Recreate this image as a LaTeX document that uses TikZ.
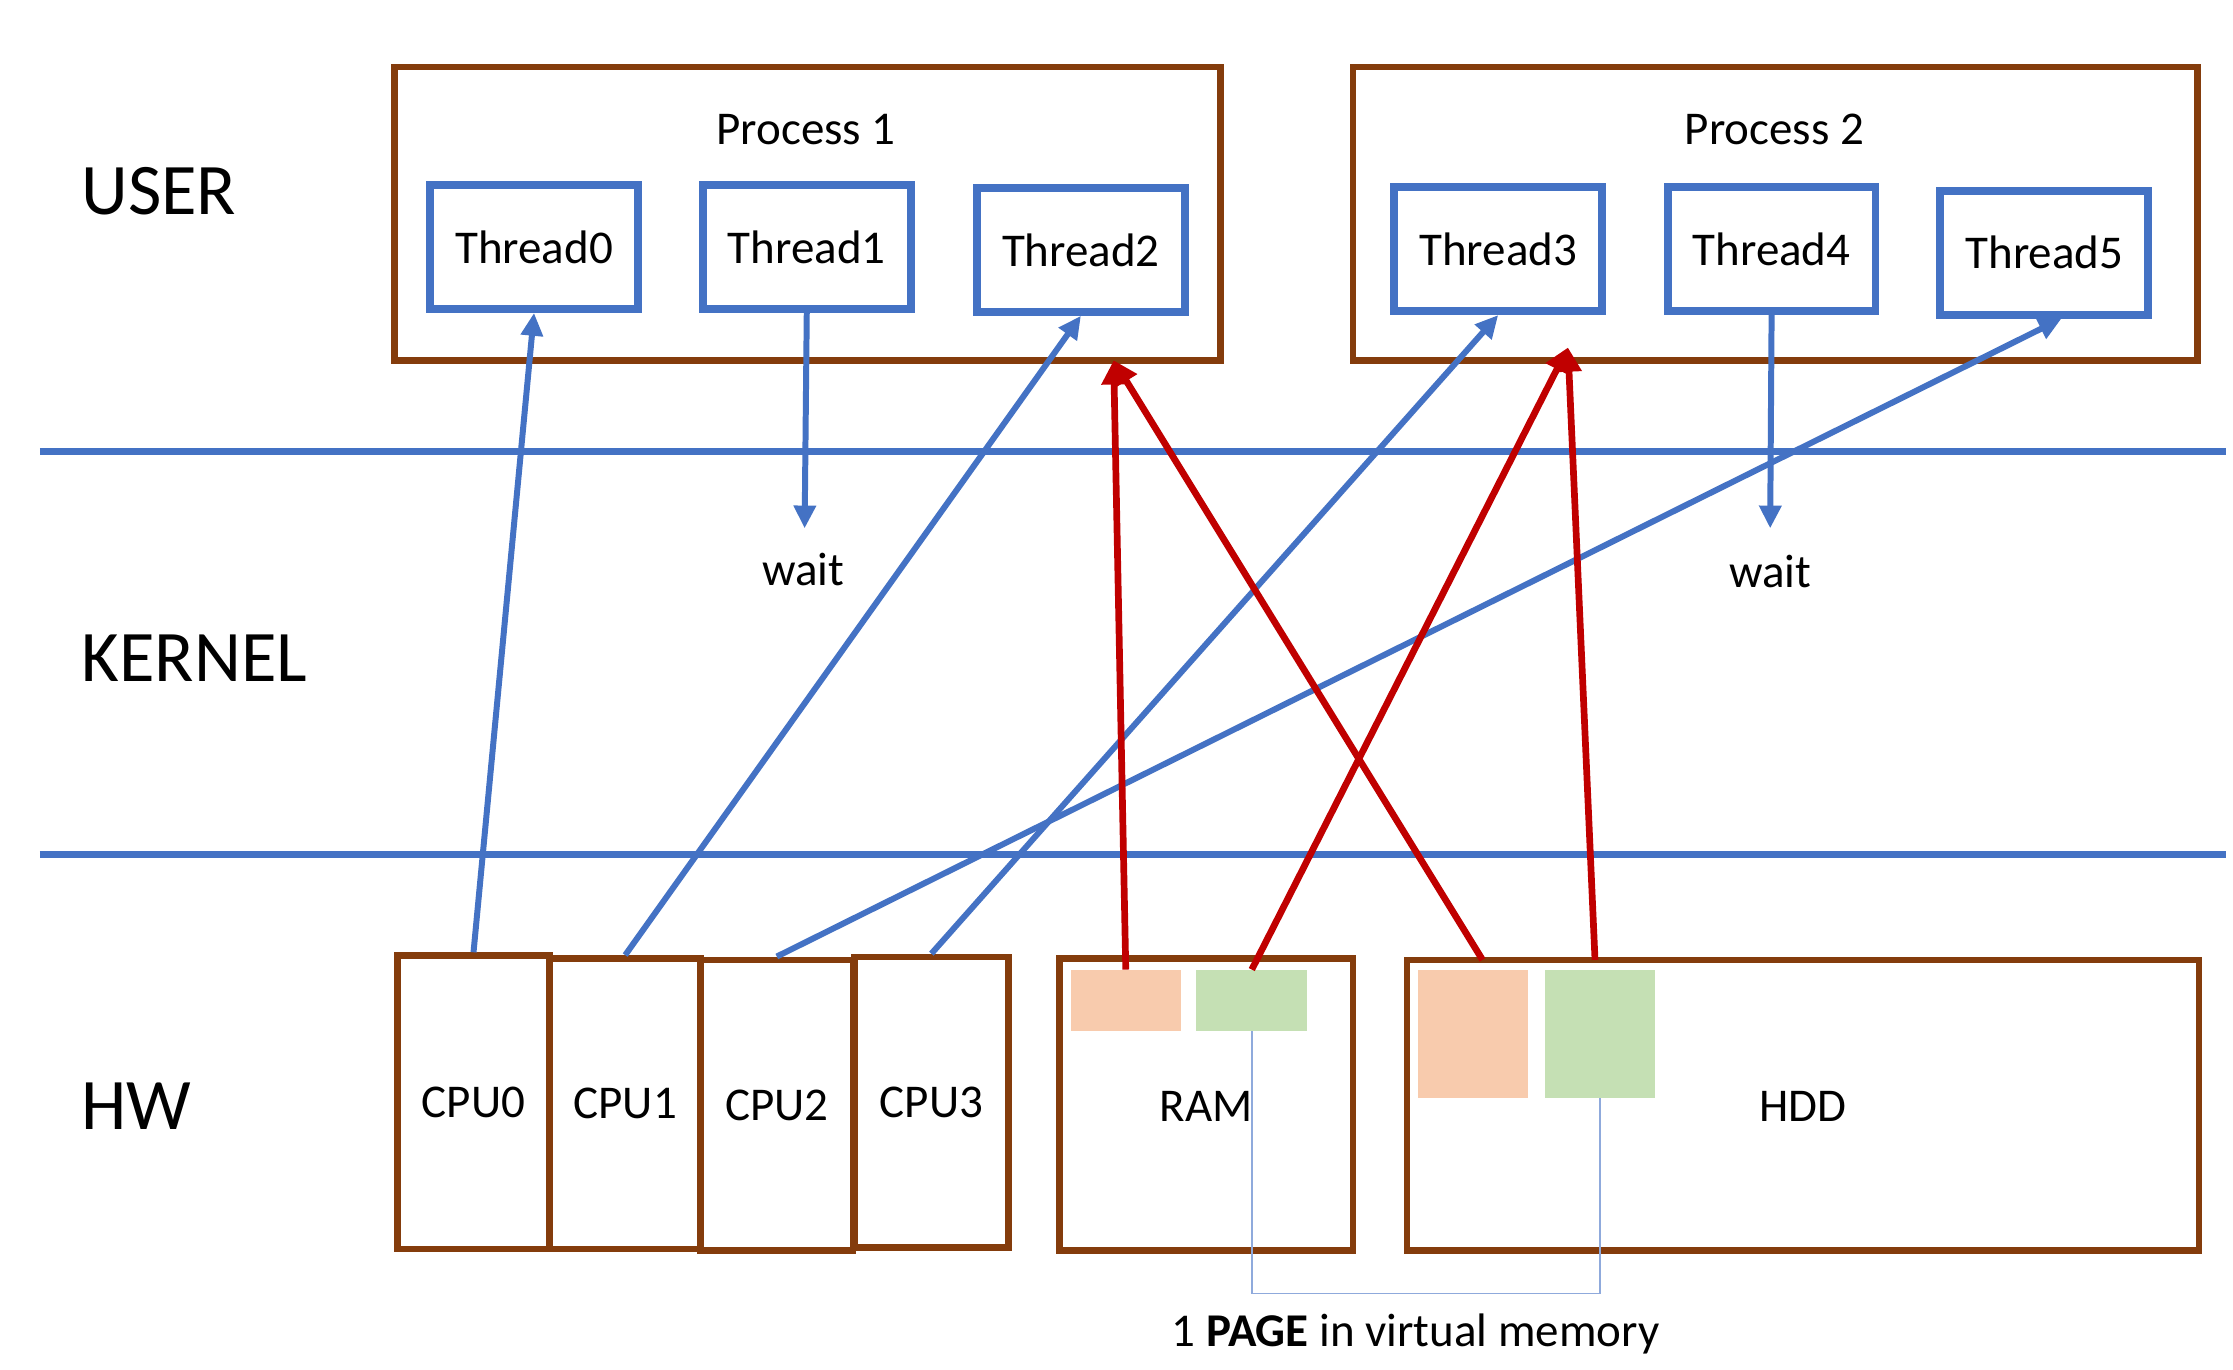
\documentclass[tikz,border=0pt]{standalone}
\usepackage{fontspec}
\setmainfont{Carlito}
\usetikzlibrary{arrows.meta,calc}
\definecolor{brownb}{RGB}{132,60,12}
\definecolor{blueb}{RGB}{68,114,196}
\definecolor{redb}{RGB}{192,0,0}
\definecolor{orangef}{RGB}{248,203,173}
\definecolor{greenf}{RGB}{197,224,180}
\definecolor{thinblue}{RGB}{143,170,220}
\tikzset{
  procbox/.style={draw=brownb,line width=4.7pt,rectangle,inner sep=0pt},
  thrbox/.style={draw=blueb,line width=5.5pt,rectangle,inner sep=0pt,minimum width=146pt,minimum height=87pt,font=\fontsize{33}{40}\selectfont},
  hwbox/.style={draw=brownb,line width=4.7pt,rectangle,inner sep=0pt,font=\fontsize{33}{40}\selectfont},
  pagebox/.style={rectangle,inner sep=0pt,draw=none},
  lbl/.style={inner sep=0pt,font=\fontsize{33}{40}\selectfont},
  biglbl/.style={inner sep=0pt,anchor=west,font=\fontsize{51}{60}\selectfont},
  bluearrow/.style={draw=blueb,line width=4.2pt,-{Triangle[length=16pt,width=15pt]}},
  redarrow/.style={draw=redb,line width=4.7pt,-{Triangle[length=17pt,width=17pt]}},
  sepline/.style={draw=blueb,line width=5pt},
}
\begin{document}
\begin{tikzpicture}[x=1pt,y=-1pt]
\useasboundingbox[fill=white] (0,0) rectangle (1568,962);
% level labels
\node[biglbl] (user) at (57,134) {USER};
\node[biglbl] (kernel) at (57,462) {KERNEL};
\node[biglbl] (hw) at (57,777) {HW};
% separators
\coordinate (s1a) at (28,317); \coordinate (s1b) at (1563,317);
\coordinate (s2a) at (28,600); \coordinate (s2b) at (1563,600);
\draw[sepline] (s1a) -- (s1b);
\draw[sepline] (s2a) -- (s2b);
% processes
\node[procbox,minimum width=580pt,minimum height=206pt] (P1) at (567,150) {};
\node[procbox,minimum width=593pt,minimum height=206pt] (P2) at (1246.5,150) {};
\node[lbl] (p1l) at (566,91) {Process 1};
\node[lbl] (p2l) at (1246,91) {Process 2};
% threads
\node[thrbox] (T0) at (375,173.5) {Thread0};
\node[thrbox] (T1) at (566.5,173.5) {Thread1};
\node[thrbox] (T2) at (759,175.5) {Thread2};
\node[thrbox] (T3) at (1052,175) {Thread3};
\node[thrbox] (T4) at (1244,175) {Thread4};
\node[thrbox] (T5) at (1435.5,177.5) {Thread5};
% hardware
\node[hwbox,minimum width=107pt,minimum height=206pt] (C0) at (332.5,774) {CPU0};
\node[hwbox,minimum width=106pt,minimum height=204pt] (C1) at (439,775) {CPU1};
\node[hwbox,minimum width=107pt,minimum height=204pt] (C2) at (545.5,776) {CPU2};
\node[hwbox,minimum width=108pt,minimum height=204pt] (C3) at (654,774) {CPU3};
\node[hwbox,minimum width=206pt,minimum height=205pt] (RAM) at (847,775.5) {};
\node[lbl] (raml) at (847,777) {RAM};
\node[hwbox,minimum width=556pt,minimum height=204pt] (HDD) at (1266,776) {};
\node[lbl] (hddl) at (1266,777) {HDD};
\node[pagebox,fill=orangef,minimum width=77pt,minimum height=43pt] (RO) at (790.5,702.5) {};
\node[pagebox,fill=greenf,minimum width=78pt,minimum height=43pt] (RG) at (879,702.5) {};
\node[pagebox,fill=orangef,minimum width=77pt,minimum height=90pt] (HO) at (1034.5,726) {};
\node[pagebox,fill=greenf,minimum width=77pt,minimum height=90pt] (HG) at (1123.5,726) {};
% wait labels
\node[lbl] (w1) at (564,400) {wait};
\node[lbl] (w2) at (1243,401) {wait};
\coordinate (w1t) at (565,371);
\coordinate (w2t) at (1243,371);
% blue arrows
\draw[bluearrow] (C0.north) -- (T0.south);
\draw[bluearrow] (C1.north) -- (T2.south);
\draw[bluearrow] (C2.north) -- ($(T5.south)+(12,0)$);
\draw[bluearrow] (C3.north) -- (T3.south);
\draw[bluearrow] (T1.south) -- (w1t);
\draw[bluearrow] (T4.south) -- (w2t);
% red arrows
\coordinate (p1in) at (782,253);
\coordinate (p2in) at (1101,244);
\coordinate (hos) at (1041,674);
\coordinate (hgs) at (1120,674);
\draw[redarrow] (RO.north) -- (p1in);
\draw[redarrow] (hos) -- (p1in);
\draw[redarrow] (RG.north) -- (p2in);
\draw[redarrow] (hgs) -- (p2in);
% page bracket
\draw[thinblue,line width=1.2pt] (RG.south) -- ++(0,184) -| (HG.south);
\node[lbl] (pg) at (994,937) {1 \textbf{PAGE} in virtual memory};
\end{tikzpicture}
\end{document}
